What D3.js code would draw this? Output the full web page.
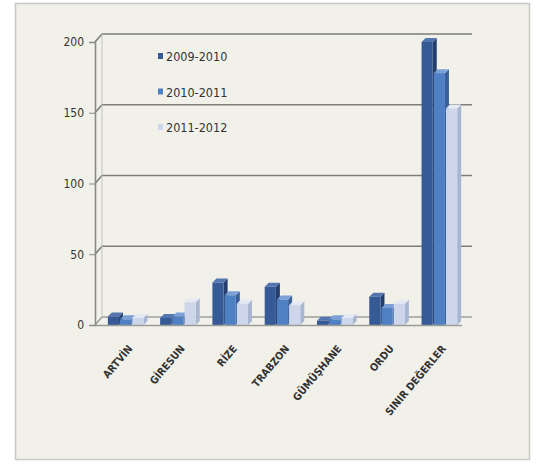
<!DOCTYPE html>
<html>
<head>
<meta charset="utf-8">
<script src="https://cdn.jsdelivr.net/npm/d3@7"></script>
<style>
  body { margin: 0; background: #ffffff; }
  svg text { font-family: "Liberation Sans Narrow", "Arial Narrow", "DejaVu Sans Condensed", sans-serif; fill: #333; }
</style>
</head>
<body>
<div id="chart"></div>
<script>
// kategoriler (iller)
const categories = ['ARTVİN', 'GİRESUN', 'RİZE', 'TRABZON', 'GÜMÜŞHANE', 'ORDU', 'SINIR DEĞERLER'];
const seriesNames = ['2009-2010', '2010-2011', '2011-2012'];
const s2009 = [6, 5, 30, 27, 3, 20, 200];
const s2010 = [4, 6, 21, 18, 4, 12, 178];
const s2011 = [5, 16, 15, 14, 5, 15, 153];
const yTicks = [0, 50, 100, 150, 200];

const colors = ['#355a96', '#4f80c4', '#cdd6ea'];
const sides = ['#243f6e', '#385f9a', '#a9b6d2'];
const tops = ['#5476b0', '#7aa0d6', '#e4e9f4'];

const W = 541, H = 464;
const svg = d3.select('#chart').append('svg').attr('width', W).attr('height', H);

// 背景・枠
svg.append('rect').attr('x', 15.5).attr('y', 3.5).attr('width', 514).attr('height', 456)
  .attr('fill', '#f2f1e9').attr('stroke', '#c8c8c4').attr('stroke-width', 1.5);

const x0 = d3.scaleBand().domain(categories).range([100, 466]).paddingInner(0.3).paddingOuter(0.15);
const x1 = d3.scaleBand().domain(seriesNames).range([0, x0.bandwidth()]);
const y = d3.scaleLinear().domain([0, 200]).range([325, 42]);

// 奥の壁のずれ
const dx = 7, dy = -8;

// grid lines (back wall)
const grid = svg.append('g');
yTicks.forEach(t => {
  grid.append('path')
    .attr('d', `M95,${y(t)} L${95 + dx},${y(t) + dy} L472,${y(t) + dy}`)
    .attr('fill', 'none').attr('stroke', t === 0 ? '#a0a09c' : '#7d7d7a').attr('stroke-width', 1.6);
});
// back vertical wall line
svg.append('line').attr('x1', 95 + dx).attr('x2', 95 + dx).attr('y1', y(200) + dy).attr('y2', y(0) + dy)
  .attr('stroke', '#c4c4c0').attr('stroke-width', 1);

// y axis
const axisY = svg.append('g').attr('transform', 'translate(95,0)')
  .call(d3.axisLeft(y).tickValues(yTicks).tickSize(6).tickPadding(5));
axisY.select('.domain').attr('stroke', '#8a8a86').attr('stroke-width', 1.6);
axisY.selectAll('.tick line').attr('stroke', '#8a8a86');
axisY.selectAll('.tick text').attr('font-size', 12).attr('fill', '#333');

// bars
const data = [s2009, s2010, s2011];
const d3x = 4, d3y = -4;
categories.forEach((c, i) => {
  const g = svg.append('g').attr('transform', `translate(${x0(c)},0)`);
  seriesNames.forEach((s, k) => {
    const v = data[k][i];
    const bx = x1(s), bw = x1.bandwidth() - 1, top = y(v), bot = y(0);
    g.append('path')
      .attr('d', `M${bx + bw},${top} L${bx + bw + d3x},${top + d3y} L${bx + bw + d3x},${bot + d3y} L${bx + bw},${bot} Z`)
      .attr('fill', sides[k]);
    g.append('path')
      .attr('d', `M${bx},${top} L${bx + d3x},${top + d3y} L${bx + bw + d3x},${top + d3y} L${bx + bw},${top} Z`)
      .attr('fill', tops[k]);
    g.append('rect').attr('x', bx).attr('y', top).attr('width', bw).attr('height', bot - top)
      .attr('fill', colors[k]);
  });
});

// x axis (front floor edge)
const axisX = svg.append('g').attr('transform', 'translate(0,325)')
  .call(d3.axisBottom(x0).tickSize(0).tickPadding(8));
axisX.select('.domain').attr('d', 'M95,0.5H462').attr('stroke', '#9a9a96').attr('stroke-width', 1.6);
axisX.selectAll('.tick text')
  .attr('font-size', 10.5).attr('font-weight', 'bold').attr('fill', '#3a3a3a')
  .attr('text-anchor', 'end')
  .attr('transform', 'translate(-5,14) rotate(-50)');

// legend
const legend = svg.append('g').attr('transform', 'translate(158,57)');
seriesNames.forEach((s, k) => {
  const row = legend.append('g').attr('transform', `translate(0,${k * 35.5})`);
  row.append('rect').attr('x', 0).attr('y', -4).attr('width', 5).attr('height', 6).attr('fill', colors[k]);
  row.append('text').attr('x', 8).attr('y', 4).attr('font-size', 12.5).attr('fill', '#333').text(s);
});
</script>
</body>
</html>
